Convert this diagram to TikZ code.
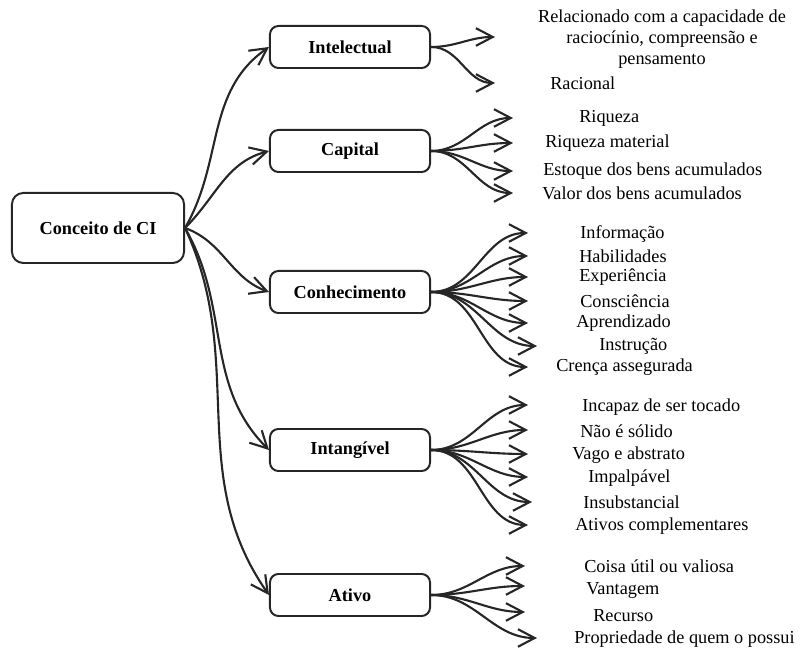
\documentclass[tikz,border=0pt]{standalone}
\usepackage{fontspec}
\setmainfont{Liberation Serif}
\usetikzlibrary{positioning, arrows.meta}

\begin{document}
\begin{tikzpicture}[x=0.025cm, y=0.025cm,
% styles for boxes, leaf texts and arrows
    mybox/.style={
        draw=black!85,
        rectangle,
        rounded corners=6pt,
        line width=1.4pt,
        minimum width=4cm,
        minimum height=1.05cm,
        font=\fontsize{13}{15}\selectfont\bfseries
        },
    mytext/.style={
        anchor=west,
        inner sep=0pt,
        font=\fontsize{13}{15}\selectfont
        },
    myarrow/.style={
        draw=black!85,
        line width=1.5pt,
        -{Straight Barb[length=4.2mm, width=4.4mm, line width=1.5pt]}
        }
]
\useasboundingbox (0,0) rectangle (802,648);

\node[mybox, minimum width=4.3cm, minimum height=1.75cm, rounded corners=8pt] (CI) at (98,420) {Conceito de CI};

\node[mybox] (A) at (350,601) {Intelectual};
\node[mybox] (B) at (350,497) {Capital};
\node[mybox] (C) at (350,356) {Conhecimento};
\node[mybox] (D) at (350,198) {Intangível};
\node[mybox] (E) at (350,53) {Ativo};

\draw[myarrow] (CI.east) to[out=60, in=215] (A.west);
\draw[myarrow] (CI.east) to[out=45, in=195] (B.west);
\draw[myarrow] (CI.east) to[out=-20, in=160] (C.west);
\draw[myarrow] (CI.east) to[out=-60, in=135] (D.west);
\draw[myarrow] (CI.east) to[out=-65, in=125] (E.west);

% Intelectual
\node[mytext, anchor=center, align=center] (A1) at (662,609) {Relacionado com a capacidade de\\raciocínio, compreensão e\\pensamento};
\node[mytext] (A2) at (550,565) {Racional};
\coordinate (a1) at (495,611);
\coordinate (a2) at (495,565);
\draw[myarrow] (A.east) to[out=0, in=180] (a1);
\draw[myarrow] (A.east) to[out=0, in=180] (a2);

% Capital
\node[mytext] (B1) at (579,530) {Riqueza};
\node[mytext] (B2) at (545,505) {Riqueza material};
\node[mytext] (B3) at (543,477) {Estoque dos bens acumulados};
\node[mytext] (B4) at (542,455) {Valor dos bens acumulados};
\coordinate (b1) at (513,530);
\coordinate (b2) at (513,505);
\coordinate (b3) at (513,477);
\coordinate (b4) at (513,455);
\draw[myarrow] (B.east) to[out=0, in=180] (b1);
\draw[myarrow] (B.east) to[out=0, in=180] (b2);
\draw[myarrow] (B.east) to[out=0, in=180] (b3);
\draw[myarrow] (B.east) to[out=0, in=180] (b4);

% Conhecimento
\node[mytext] (C1) at (580,414) {Informação};
\node[mytext] (C2) at (579,392) {Habilidades};
\node[mytext] (C3) at (579,371) {Experiência};
\node[mytext] (C4) at (580,347) {Consciência};
\node[mytext] (C5) at (576,325) {Aprendizado};
\node[mytext] (C6) at (599,302) {Instrução};
\node[mytext] (C7) at (556,281) {Crença assegurada};
\coordinate (c1) at (528,415);
\coordinate (c2) at (528,392);
\coordinate (c3) at (528,371);
\coordinate (c4) at (528,347);
\coordinate (c5) at (528,325);
\coordinate (c6) at (537,302);
\coordinate (c7) at (528,281);
\draw[myarrow] (C.east) to[out=0, in=180] (c1);
\draw[myarrow] (C.east) to[out=0, in=180] (c2);
\draw[myarrow] (C.east) to[out=0, in=180] (c3);
\draw[myarrow] (C.east) to[out=0, in=180] (c4);
\draw[myarrow] (C.east) to[out=0, in=180] (c5);
\draw[myarrow] (C.east) to[out=0, in=180] (c6);
\draw[myarrow] (C.east) to[out=0, in=180] (c7);

% Intangivel
\node[mytext] (D1) at (582,241) {Incapaz de ser tocado};
\node[mytext] (D2) at (580,217) {Não é sólido};
\node[mytext] (D3) at (572,193) {Vago e abstrato};
\node[mytext] (D4) at (588,170) {Impalpável};
\node[mytext] (D5) at (583,146) {Insubstancial};
\node[mytext] (D6) at (575,122) {Ativos complementares};
\coordinate (d1) at (528,243);
\coordinate (d2) at (528,218);
\coordinate (d3) at (528,194);
\coordinate (d4) at (528,171);
\coordinate (d5) at (532,146);
\coordinate (d6) at (528,123);
\draw[myarrow] (D.east) to[out=0, in=180] (d1);
\draw[myarrow] (D.east) to[out=0, in=180] (d2);
\draw[myarrow] (D.east) to[out=0, in=180] (d3);
\draw[myarrow] (D.east) to[out=0, in=180] (d4);
\draw[myarrow] (D.east) to[out=0, in=180] (d5);
\draw[myarrow] (D.east) to[out=0, in=180] (d6);

% Ativo
\node[mytext] (E1) at (584,82) {Coisa útil ou valiosa};
\node[mytext] (E2) at (586,58) {Vantagem};
\node[mytext] (E3) at (593,32) {Recurso};
\node[mytext] (E4) at (574,9) {Propriedade de quem o possui};
\coordinate (e1) at (525,82);
\coordinate (e2) at (525,62);
\coordinate (e3) at (525,36);
\coordinate (e4) at (537,10);
\draw[myarrow] (E.east) to[out=0, in=180] (e1);
\draw[myarrow] (E.east) to[out=0, in=180] (e2);
\draw[myarrow] (E.east) to[out=0, in=180] (e3);
\draw[myarrow] (E.east) to[out=0, in=180] (e4);

\end{tikzpicture}
\end{document}
